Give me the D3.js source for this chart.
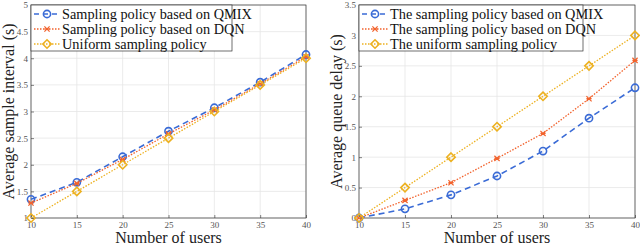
<!DOCTYPE html>
<html>
<head>
<meta charset="utf-8">
<script src="https://cdn.jsdelivr.net/npm/d3@7"></script>
<style>
  body { margin: 0; background: #fff; }
  svg { display: block; }
</style>
</head>
<body>
<div id="chart"></div>
<script>
// data
var users = [10, 15, 20, 25, 30, 35, 40];

var intervalQmix = [1.35, 1.67, 2.15, 2.63, 3.07, 3.55, 4.07];
var intervalDqn = [1.28, 1.65, 2.10, 2.58, 3.03, 3.52, 4.03];
var intervalUniform = [1.0, 1.5, 2.0, 2.5, 3.0, 3.5, 4.0];

var delayQmix = [0.0, 0.15, 0.38, 0.69, 1.10, 1.64, 2.14];
var delayDqn = [0.0, 0.29, 0.58, 0.98, 1.39, 1.96, 2.59];
var delayUniform = [0.0, 0.5, 1.0, 1.5, 2.0, 2.5, 3.0];

var xTicks = [10, 15, 20, 25, 30, 35, 40];
var leftYTicks = [1, 1.5, 2, 2.5, 3, 3.5, 4, 4.5, 5];
var rightYTicks = [0, 0.5, 1, 1.5, 2, 2.5, 3, 3.5];

var leftNames = ['Sampling policy based on QMIX', 'Sampling policy based on DQN', 'Uniform sampling policy'];
var rightNames = ['The sampling policy based on QMIX', 'The sampling policy based on DQN', 'The uniform sampling policy'];

var styles = [
    { color: '#3a6bd6', dash: '6,4', marker: 'circle', width: 1.6 },
    { color: '#f2622c', dash: '1.5,1.5', marker: 'x', width: 1.3 },
    { color: '#edb120', dash: '1.5,1.5', marker: 'diamond', width: 1.3 }
];

var svg = d3.select('#chart').append('svg')
    .attr('width', 640)
    .attr('height', 247);

var font = '"Liberation Serif", "Times New Roman", serif';

function drawPanel(opts) {
    var x = d3.scaleLinear().domain([10, 40]).range([opts.left, opts.right]);
    var y = d3.scaleLinear().domain(opts.yDomain).range([opts.bottom, opts.top]);

    var g = svg.append('g');

    // grid
    g.selectAll('.gx').data(xTicks).enter().append('line')
        .attr('x1', d => x(d)).attr('x2', d => x(d))
        .attr('y1', opts.top).attr('y2', opts.bottom)
        .attr('stroke', '#e6e6e6').attr('stroke-width', 0.8);
    g.selectAll('.gy').data(opts.yTicks).enter().append('line')
        .attr('x1', opts.left).attr('x2', opts.right)
        .attr('y1', d => y(d)).attr('y2', d => y(d))
        .attr('stroke', '#e6e6e6').attr('stroke-width', 0.8);

    // axes
    var xAxis = g.append('g')
        .attr('transform', 'translate(0,' + opts.bottom + ')')
        .call(d3.axisBottom(x).tickValues(xTicks).tickSize(-3).tickPadding(4).tickFormat(d3.format('d')));
    var yAxis = g.append('g')
        .attr('transform', 'translate(' + opts.left + ',0)')
        .call(d3.axisLeft(y).tickValues(opts.yTicks).tickSize(-3).tickPadding(3).tickFormat(d => d));

    [xAxis, yAxis].forEach(function (a) {
        a.select('.domain').remove();
        a.selectAll('line').attr('stroke', '#333').attr('stroke-width', 0.6);
        a.selectAll('text').attr('font-family', font).attr('font-size', 9).attr('fill', '#555');
    });

    // box
    g.append('rect')
        .attr('x', opts.left).attr('y', opts.top)
        .attr('width', opts.right - opts.left).attr('height', opts.bottom - opts.top)
        .attr('fill', 'none').attr('stroke', '#333').attr('stroke-width', 0.7);

    // lines + markers
    opts.series.forEach(function (vals, i) {
        var st = styles[i];
        var pts = users.map((u, j) => [u, vals[j]]);
        var line = d3.line().x(d => x(d[0])).y(d => y(d[1]));
        g.append('path')
            .attr('d', line(pts))
            .attr('fill', 'none')
            .attr('stroke', st.color)
            .attr('stroke-width', st.width)
            .attr('stroke-dasharray', st.dash);
        pts.forEach(function (p) {
            drawMarker(g, st, x(p[0]), y(p[1]));
        });
    });

    // legend
    var lg = g.append('g');
    lg.append('rect')
        .attr('x', opts.left).attr('y', opts.top)
        .attr('width', opts.legendWidth).attr('height', 46)
        .attr('fill', '#fff').attr('stroke', '#333').attr('stroke-width', 0.7);
    opts.names.forEach(function (name, i) {
        var st = styles[i];
        var ly = opts.top + 9 + i * 15;
        lg.append('line')
            .attr('x1', opts.left + 3).attr('x2', opts.left + 29)
            .attr('y1', ly).attr('y2', ly)
            .attr('stroke', st.color)
            .attr('stroke-width', st.width)
            .attr('stroke-dasharray', i === 0 ? '5,4' : st.dash);
        drawMarker(lg, st, opts.left + 16, ly);
        lg.append('text')
            .attr('x', opts.left + 31).attr('y', ly + 4.5)
            .attr('font-family', font).attr('font-size', 14.3)
            .attr('fill', '#111')
            .text(name);
    });

    // labels
    svg.append('text')
        .attr('x', (opts.left + opts.right) / 2).attr('y', 243)
        .attr('text-anchor', 'middle')
        .attr('font-family', font).attr('font-size', 16).attr('fill', '#222')
        .text('Number of users');
    svg.append('text')
        .attr('transform', 'translate(' + opts.yLabelX + ',' + ((opts.top + opts.bottom) / 2) + ') rotate(-90)')
        .attr('text-anchor', 'middle')
        .attr('font-family', font).attr('font-size', 16).attr('fill', '#222')
        .text(opts.yLabel);
}

function drawMarker(g, st, cx, cy) {
    if (st.marker === 'circle') {
        g.append('circle').attr('cx', cx).attr('cy', cy).attr('r', 3.6)
            .attr('fill', 'none').attr('stroke', st.color).attr('stroke-width', 1.6);
    } else if (st.marker === 'x') {
        var s = 2.6;
        g.append('path')
            .attr('d', 'M' + (cx - s) + ',' + (cy - s) + 'L' + (cx + s) + ',' + (cy + s) +
                'M' + (cx - s) + ',' + (cy + s) + 'L' + (cx + s) + ',' + (cy - s) +
                'M' + (cx - s) + ',' + cy + 'L' + (cx + s) + ',' + cy)
            .attr('stroke', st.color).attr('stroke-width', 1.2).attr('fill', 'none');
    } else {
        var r = 4.2;
        g.append('path')
            .attr('d', 'M' + cx + ',' + (cy - r) + 'L' + (cx + r) + ',' + cy + 'L' + cx + ',' + (cy + r) + 'L' + (cx - r) + ',' + cy + 'Z')
            .attr('fill', 'none').attr('stroke', st.color).attr('stroke-width', 1.6);
    }
}

drawPanel({
    left: 31, right: 306, top: 5, bottom: 218,
    yDomain: [1, 5], yTicks: leftYTicks,
    series: [intervalQmix, intervalDqn, intervalUniform],
    names: leftNames, legendWidth: 201,
    yLabel: 'Average sample interval (s)', yLabelX: 14
});

drawPanel({
    left: 359, right: 635, top: 5, bottom: 218,
    yDomain: [0, 3.5], yTicks: rightYTicks,
    series: [delayQmix, delayDqn, delayUniform],
    names: rightNames, legendWidth: 224,
    yLabel: 'Average queue delay (s)', yLabelX: 342
});
</script>
</body>
</html>
